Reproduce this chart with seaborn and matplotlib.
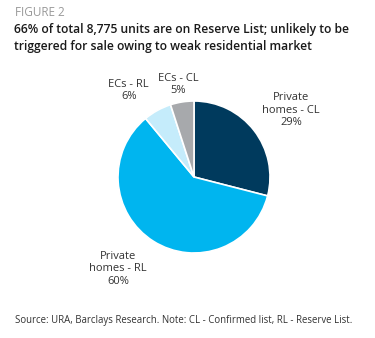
import matplotlib
matplotlib.use("Agg")
import matplotlib.pyplot as plt
import seaborn as sns

categories = ["Private\nhomes - CL", "Private\nhomes - RL", "ECs - RL", "ECs - CL"]
shares = [29, 60, 6, 5]
pct_labels = ["29%", "60%", "6%", "5%"]
colors = ["#003A5D", "#00B5EF", "#C5ECFB", "#A7A9AC"]

sns.set_theme(style="white")
plt.rcParams["font.family"] = ["Open Sans", "DejaVu Sans"]

W, H = 375, 338
fig = plt.figure(figsize=(W / 100, H / 100), dpi=100)
fig.patch.set_facecolor("white")

cx, cy, R = 194, 177, 76
ax = fig.add_axes([(cx - 2 * R) / W, (H - cy - 2 * R) / H, 4 * R / W, 4 * R / H])
ax.pie(shares, colors=colors, startangle=90, counterclock=False,
       wedgeprops=dict(edgecolor="white", linewidth=1.2), radius=1)
ax.set_xlim(-2, 2)
ax.set_ylim(-2, 2)
ax.set_aspect("equal")
ax.axis("off")

label_pos = [(1.28, 0.88), (-1.0, -1.21), (-0.86, 1.14), (-0.21, 1.22)]
for cat, pct, (x, y) in zip(categories, pct_labels, label_pos):
    ax.text(x, y, f"{cat}\n{pct}", ha="center", va="center", fontsize=8,
            color="#333333", linespacing=1.15)

fig.text(15 / W, 1 - 12 / H, "FIGURE 2", fontsize=8.5, color="#999999",
         va="center", ha="left")
fig.text(14 / W, 1 - 38 / H,
         "66% of total 8,775 units are on Reserve List; unlikely to be\n"
         "triggered for sale owing to weak residential market",
         fontsize=8.7, fontweight="semibold", color="#1A1A1A", va="center",
         ha="left", linespacing=1.35)
fig.text(15 / W, 1 - 321 / H,
         "Source: URA, Barclays Research. Note: CL - Confirmed list, RL - Reserve List.",
         fontsize=6.9, color="#333333", va="center", ha="left")

fig.savefig("out.png", dpi=100, facecolor="white")
